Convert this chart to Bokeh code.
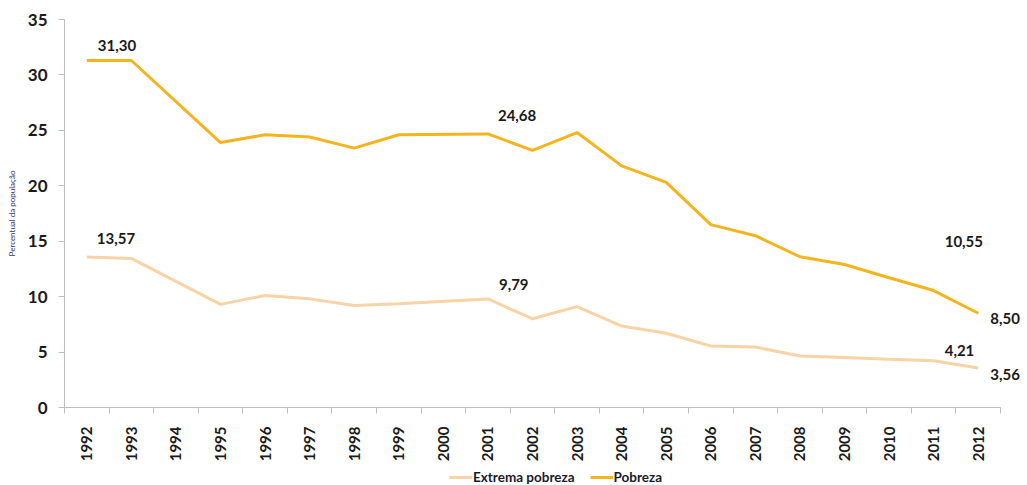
from math import pi
from bokeh.plotting import figure
from bokeh.layouts import column
from bokeh.models import (Range1d, FixedTicker, Legend, LegendItem, ColumnDataSource)
from bokeh.core.properties import value
from bokeh.embed import file_html
from bokeh.resources import INLINE

# ---- data ----
categories = list(range(1992, 2013))  # tick labels (all years)
years = [1992, 1993, 1995, 1996, 1997, 1998, 1999, 2001, 2002, 2003, 2004,
         2005, 2006, 2007, 2008, 2009, 2010, 2011, 2012]
pobreza = [31.30, 31.30, 23.9, 24.6, 24.4, 23.4, 24.6, 24.68, 23.2, 24.8, 21.8,
           20.3, 16.5, 15.5, 13.6, 12.9, 11.7, 10.55, 8.50]
extrema = [13.57, 13.45, 9.3, 10.1, 9.8, 9.2, 9.35, 9.79, 8.0, 9.1, 7.35,
           6.7, 5.55, 5.45, 4.65, 4.5, 4.35, 4.21, 3.56]
label_years = [1992, 1992, 2001, 2001, 2011, 2012, 2011, 2012]
label_values = [31.30, 13.57, 24.68, 9.79, 10.55, 8.50, 4.21, 3.56]
series_names = ["Extrema pobreza", "Pobreza"]
y_title = "Percentual da população"

# ---- layout constants (screen offsets of data labels) ----
label_dx = [11, 10, 10, 11, 11, 12, 11, 12]
label_dy = [-15, -19, -18, -14, -49, 5, -10, 6]

FONT = "Lato"
C_POB = "#F5B41E"
C_EXT = "#F8D3A6"

p = figure(width=1027, height=470, output_backend="svg", toolbar_location=None,
           x_range=Range1d(1991.5, 2013.06), y_range=Range1d(0, 35),
           min_border_left=64, min_border_right=2, min_border_top=19,
           min_border_bottom=63)
p.outline_line_color = None
p.xgrid.visible = False
p.ygrid.visible = False
p.background_fill_color = "white"
p.border_fill_color = "white"

p.line(years, extrema, line_color=C_EXT, line_width=3)
p.line(years, pobreza, line_color=C_POB, line_width=3)

labels_src = ColumnDataSource(dict(
    x=label_years, y=label_values,
    t=[f"{v:.2f}".replace(".", ",") for v in label_values],
    dx=label_dx, dy=label_dy))
p.text(x="x", y="y", text="t", x_offset="dx", y_offset="dy", source=labels_src,
       text_font=value(FONT), text_font_style="bold", text_font_size="15px",
       text_color="#1a1a1a", text_align="left", text_baseline="middle")

# y axis
ya = p.yaxis[0]
ya.ticker = FixedTicker(ticks=[0, 5, 10, 15, 20, 25, 30, 35], minor_ticks=[])
ya.axis_line_color = "#bfbfbf"
ya.major_tick_line_color = "#bfbfbf"
ya.major_tick_out = 6
ya.major_tick_in = 0
ya.minor_tick_line_color = None
ya.major_label_text_font = FONT
ya.major_label_text_font_style = "bold"
ya.major_label_text_font_size = "17px"
ya.major_label_text_color = "#1a1a1a"
ya.major_label_standoff = 11
ya.axis_label = y_title
ya.axis_label_text_font = FONT
ya.axis_label_text_font_size = "8px"
ya.axis_label_text_font_style = "normal"
ya.axis_label_text_color = "#2b3a7a"
ya.axis_label_standoff = 8

# x axis
xa = p.xaxis[0]
xa.bounds = (categories[0] - 0.5, categories[-1] + 0.5)
xa.ticker = FixedTicker(ticks=categories,
                        minor_ticks=[c - 0.5 for c in categories] + [categories[-1] + 0.5])
xa.major_label_overrides = {c: str(c) for c in categories}
xa.axis_line_color = "#bfbfbf"
xa.major_tick_line_color = None
xa.minor_tick_line_color = "#bfbfbf"
xa.minor_tick_out = 6
xa.minor_tick_in = 0
xa.major_label_orientation = pi / 2
xa.major_label_text_font = FONT
xa.major_label_text_font_style = "bold"
xa.major_label_text_font_size = "15px"
xa.major_label_text_color = "#1a1a1a"
xa.major_label_standoff = 13

# legend strip below the chart (its renderers hold the series, drawn off-range)
lg = figure(width=1027, height=15, output_backend="svg", toolbar_location=None,
            x_axis_location=None, y_axis_location=None,
            x_range=Range1d(0, 1), y_range=Range1d(0, 1),
            min_border_left=64, min_border_right=2, min_border_top=0,
            min_border_bottom=0)
lg.outline_line_color = None
lg.xgrid.visible = False
lg.ygrid.visible = False
l_ext = lg.line(years, extrema, line_color=C_EXT, line_width=3)
l_pob = lg.line(years, pobreza, line_color=C_POB, line_width=3)
legend = Legend(items=[LegendItem(label=series_names[0], renderers=[l_ext]),
                       LegendItem(label=series_names[1], renderers=[l_pob])],
                orientation="horizontal", location=(385, 0),
                label_text_font=FONT, label_text_font_style="bold",
                label_text_font_size="13.5px", label_text_color="#1a1a2a",
                glyph_width=23, glyph_height=12, spacing=15, padding=0,
                margin=0, border_line_color=None, background_fill_alpha=0,
                label_standoff=1, label_height=12)
lg.add_layout(legend, "center")

layout = column(p, lg, spacing=0)
open("out.html", "w").write(file_html(layout, INLINE))
